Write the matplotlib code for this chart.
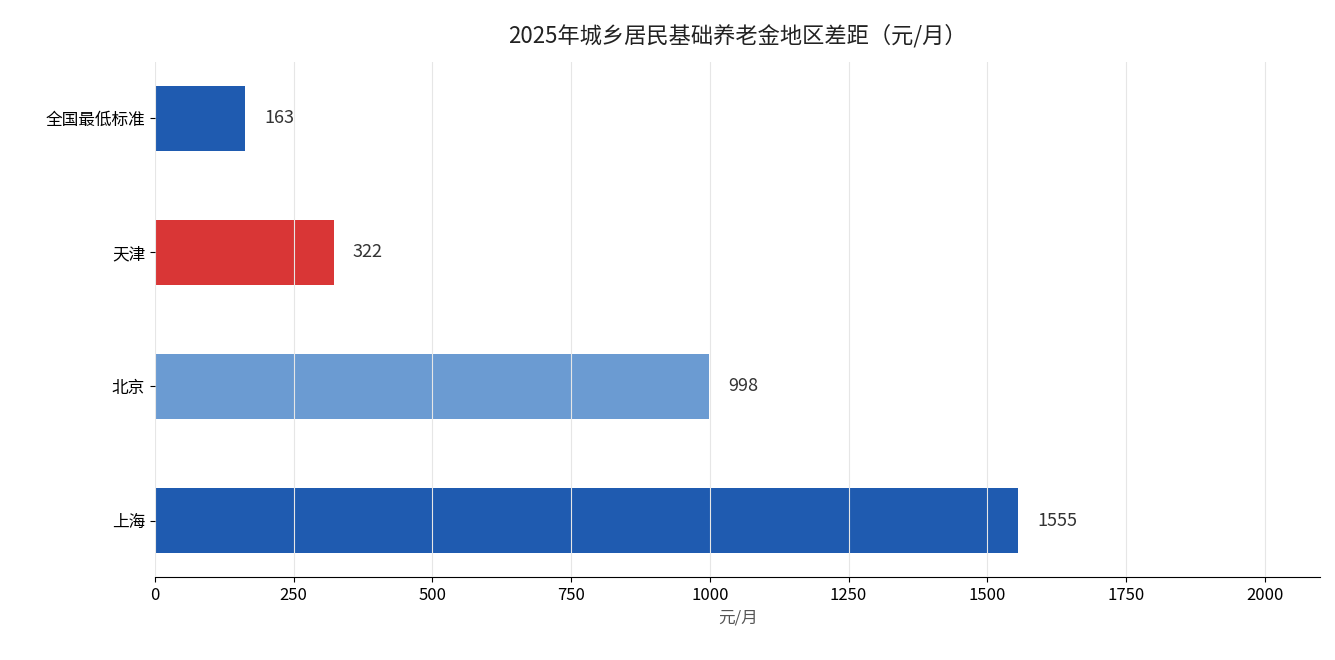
import matplotlib
matplotlib.use("Agg")
import matplotlib.pyplot as plt

plt.rcParams['font.family'] = ['Noto Sans CJK SC', 'DejaVu Sans']

regions = ["上海", "北京", "天津", "全国最低标准"]
values = [1555, 998, 322, 163]
colors = ["#1f5bb0", "#6b9bd2", "#d93636", "#1f5bb0"]

fig, ax = plt.subplots(figsize=(13.35, 6.6), dpi=100)
fig.subplots_adjust(left=0.116, right=0.989, top=0.906, bottom=0.126)

ax.barh(regions, values, height=0.48, color=colors, zorder=1)
for i, v in enumerate(values):
    ax.text(v + 35, i, str(v), va="center", ha="left", fontsize=13, color="#333333")

ax.set_xlim(0, 2100)
ax.set_ylim(-0.42, 3.42)
ax.set_xticks(range(0, 2001, 250))
ax.grid(axis="x", color="#e6e6e6", linewidth=0.8, zorder=2)
ax.set_axisbelow(False)
for s in ["top", "right", "left"]:
    ax.spines[s].set_visible(False)
ax.tick_params(axis="both", labelsize=12)
ax.set_xlabel("元/月", fontsize=12, color="#555555")
ax.set_title("2025年城乡居民基础养老金地区差距（元/月）", fontsize=16, color="#222222", pad=14)

fig.savefig("out.png")
